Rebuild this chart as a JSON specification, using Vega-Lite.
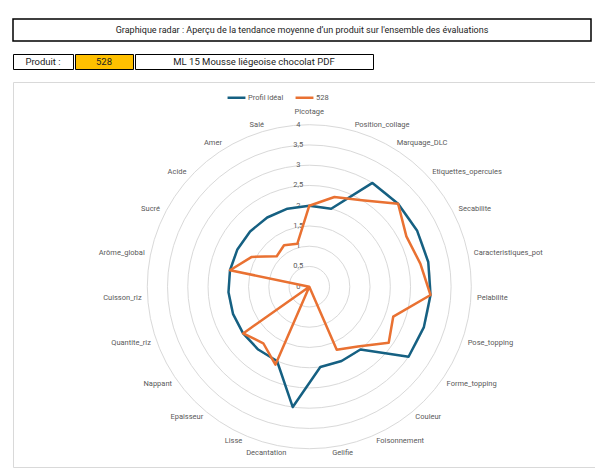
{
  "$schema": "https://vega.github.io/schema/vega-lite/v6.json",
  "description": "Graphique radar : profil idéal contre produit 528.",
  "background": "white",
  "padding": {"left": 12, "top": 18, "right": 0, "bottom": 0},
  "spacing": 11,
  "datasets": {
    "criteres": [
      {"critere": "Picotage", "Profil idéal": 2, "528": 2.0},
      {"critere": "Position_collage", "Profil idéal": 2, "528": 2.3},
      {"critere": "Marquage_DLC", "Profil idéal": 3, "528": 2.5},
      {"critere": "Etiquettes_opercules", "Profil idéal": 3, "528": 3.0},
      {"critere": "Secabilite", "Profil idéal": 3, "528": 2.7},
      {"critere": "Caracteristiques_pot", "Profil idéal": 3, "528": 2.8},
      {"critere": "Pelabilite", "Profil idéal": 3, "528": 3.0},
      {"critere": "Pose_topping", "Profil idéal": 3, "528": 2.2},
      {"critere": "Forme_topping", "Profil idéal": 3, "528": 2.4},
      {"critere": "Couleur", "Profil idéal": 2, "528": 1.9},
      {"critere": "Foisonnement", "Profil idéal": 2, "528": 1.7},
      {"critere": "Gelifie", "Profil idéal": 2, "528": 0},
      {"critere": "Decantation", "Profil idéal": 3, "528": 0},
      {"critere": "Lisse", "Profil idéal": 2, "528": 2.1},
      {"critere": "Epaisseur", "Profil idéal": 2, "528": 1.8},
      {"critere": "Nappant", "Profil idéal": 2, "528": 2.0},
      {"critere": "Quantite_riz", "Profil idéal": 2, "528": 0},
      {"critere": "Cuisson_riz", "Profil idéal": 2, "528": 0},
      {"critere": "Arôme_global", "Profil idéal": 2, "528": 2.0},
      {"critere": "Sucré", "Profil idéal": 2, "528": 1.6},
      {"critere": "Acide", "Profil idéal": 2, "528": 1.1},
      {"critere": "Amer", "Profil idéal": 2, "528": 1.2},
      {"critere": "Salé", "Profil idéal": 2, "528": 1.1}
    ],
    "niveaux": [
      {"niveau": 0}, {"niveau": 0.5}, {"niveau": 1}, {"niveau": 1.5}, {"niveau": 2},
      {"niveau": 2.5}, {"niveau": 3}, {"niveau": 3.5}, {"niveau": 4}
    ]
  },
  "vconcat": [
    {
      "width": 578,
      "height": 22,
      "view": {"stroke": "#000000", "strokeWidth": 1.5, "fill": "white"},
      "data": {"values": [{"titre": "Graphique radar : Aperçu de la tendance moyenne d’un produit sur l'ensemble des évaluations"}]},
      "mark": {"type": "text", "font": "Roboto", "fontSize": 9, "color": "#222222"},
      "encoding": {"text": {"field": "titre"}}
    },
    {
      "spacing": 0,
      "hconcat": [
        {
          "width": 60,
          "height": 15,
          "view": {"stroke": "#000000", "strokeWidth": 1, "fill": "white"},
          "data": {"values": [{"libelle": "Produit :"}]},
          "mark": {"type": "text", "font": "Roboto", "fontSize": 9.5, "color": "#222222"},
          "encoding": {"text": {"field": "libelle"}}
        },
        {
          "width": 58,
          "height": 15,
          "view": {"stroke": "#000000", "strokeWidth": 1, "fill": "#FFC000"},
          "data": {"values": [{"libelle": "528"}]},
          "mark": {"type": "text", "font": "Roboto", "fontSize": 9.5, "color": "#222222"},
          "encoding": {"text": {"field": "libelle"}}
        },
        {
          "width": 238,
          "height": 15,
          "view": {"stroke": "#000000", "strokeWidth": 1, "fill": "white"},
          "data": {"values": [{"libelle": "ML 15 Mousse liégeoise chocolat PDF"}]},
          "mark": {"type": "text", "font": "Roboto", "fontSize": 9.5, "color": "#222222"},
          "encoding": {"text": {"field": "libelle"}}
        }
      ]
    },
    {
      "width": 583,
      "height": 385,
      "view": {"stroke": "#d9d9d9", "strokeWidth": 1, "fill": "white"},
      "layer": [
        {
          "data": {"name": "niveaux"},
          "transform": [{"filter": "datum.niveau > 0"}],
          "mark": {"type": "arc", "theta": 0, "theta2": 6.3, "fill": "transparent", "stroke": "#d9d9d9", "strokeWidth": 1},
          "encoding": {
            "x": {"datum": 0, "type": "quantitative", "scale": {"domain": [-7.316, 7.079], "nice": false, "zero": false}, "axis": null},
            "y": {"datum": 0, "type": "quantitative", "scale": {"domain": [-4.452, 5.055], "nice": false, "zero": false}, "axis": null},
            "radius": {"field": "niveau", "type": "quantitative", "stack": null, "scale": {"type": "linear", "domain": [0, 4], "range": [0, 162], "zero": true}}
          }
        },
        {
          "data": {"name": "niveaux"},
          "mark": {"type": "text", "font": "Roboto", "fontSize": 7.5, "color": "#595959", "dx": -11, "align": "center", "baseline": "middle"},
          "encoding": {
            "x": {"datum": 0, "type": "quantitative", "scale": {"domain": [-7.316, 7.079], "nice": false, "zero": false}, "axis": null},
            "y": {"field": "niveau", "type": "quantitative", "scale": {"domain": [-4.452, 5.055], "nice": false, "zero": false}, "axis": null},
            "text": {"field": "niveau", "type": "quantitative", "format": ".1~f"}
          }
        },
        {
          "data": {"name": "criteres"},
          "transform": [
            {"window": [{"op": "row_number", "as": "rang"}]},
            {"calculate": "(datum.rang - 1) * 2 * PI / 23", "as": "angle"},
            {"fold": ["Profil idéal", "528"], "as": ["serie", "valeur"]},
            {"calculate": "datum.valeur * sin(datum.angle)", "as": "px"},
            {"calculate": "datum.valeur * cos(datum.angle)", "as": "py"},
            {"filter": "datum.serie == 'Profil idéal'"}
          ],
          "mark": {"type": "line", "interpolate": "linear-closed", "strokeWidth": 2.5, "strokeJoin": "round"},
          "encoding": {
            "x": {"field": "px", "type": "quantitative", "scale": {"domain": [-7.316, 7.079], "nice": false, "zero": false}, "axis": null},
            "y": {"field": "py", "type": "quantitative", "scale": {"domain": [-4.452, 5.055], "nice": false, "zero": false}, "axis": null},
            "order": {"field": "rang"},
            "color": {
              "field": "serie",
              "type": "nominal",
              "scale": {"domain": ["Profil idéal", "528"], "range": ["#156082", "#E97132"]},
              "legend": {
                "title": null,
                "orient": "none",
                "legendX": 213,
                "legendY": 68,
                "direction": "horizontal",
                "symbolType": "stroke",
                "symbolSize": 320,
                "symbolStrokeWidth": 2.5,
                "labelFont": "Roboto",
                "labelFontSize": 7.5,
                "labelColor": "#595959",
                "labelOffset": 1,
                "columnPadding": 6
              }
            }
          }
        },
        {
          "data": {"name": "criteres"},
          "transform": [
            {"window": [{"op": "row_number", "as": "rang"}]},
            {"calculate": "(datum.rang - 1) * 2 * PI / 23", "as": "angle"},
            {"fold": ["Profil idéal", "528"], "as": ["serie", "valeur"]},
            {"calculate": "datum.valeur * sin(datum.angle)", "as": "px"},
            {"calculate": "datum.valeur * cos(datum.angle)", "as": "py"},
            {"filter": "datum.serie == '528'"}
          ],
          "mark": {"type": "line", "interpolate": "linear-closed", "strokeWidth": 2.5, "strokeJoin": "round"},
          "encoding": {
            "x": {"field": "px", "type": "quantitative", "scale": {"domain": [-7.316, 7.079], "nice": false, "zero": false}, "axis": null},
            "y": {"field": "py", "type": "quantitative", "scale": {"domain": [-4.452, 5.055], "nice": false, "zero": false}, "axis": null},
            "order": {"field": "rang"},
            "color": {"field": "serie", "type": "nominal", "scale": {"domain": ["Profil idéal", "528"], "range": ["#156082", "#E97132"]}}
          }
        },
        {
          "data": {"name": "criteres"},
          "transform": [
            {"window": [{"op": "row_number", "as": "rang"}]},
            {"calculate": "(datum.rang - 1) * 2 * PI / 23", "as": "angle"},
            {"calculate": "4.15 * sin(datum.angle)", "as": "lx"},
            {"calculate": "4.15 * cos(datum.angle)", "as": "ly"},
            {"filter": "datum.rang == 1"}
          ],
          "mark": {"type": "text", "font": "Roboto", "fontSize": 7.5, "color": "#595959", "align": "center", "baseline": "middle", "dy": -7},
          "encoding": {
            "x": {"field": "lx", "type": "quantitative", "scale": {"domain": [-7.316, 7.079], "nice": false, "zero": false}, "axis": null},
            "y": {"field": "ly", "type": "quantitative", "scale": {"domain": [-4.452, 5.055], "nice": false, "zero": false}, "axis": null},
            "text": {"field": "critere"}
          }
        },
        {
          "data": {"name": "criteres"},
          "transform": [
            {"window": [{"op": "row_number", "as": "rang"}]},
            {"calculate": "(datum.rang - 1) * 2 * PI / 23", "as": "angle"},
            {"calculate": "4.15 * sin(datum.angle)", "as": "lx"},
            {"calculate": "4.15 * cos(datum.angle)", "as": "ly"},
            {"filter": "datum.rang >= 2 && datum.rang <= 12"}
          ],
          "mark": {"type": "text", "font": "Roboto", "fontSize": 7.5, "color": "#595959", "align": "left", "baseline": "middle"},
          "encoding": {
            "x": {"field": "lx", "type": "quantitative", "scale": {"domain": [-7.316, 7.079], "nice": false, "zero": false}, "axis": null},
            "y": {"field": "ly", "type": "quantitative", "scale": {"domain": [-4.452, 5.055], "nice": false, "zero": false}, "axis": null},
            "text": {"field": "critere"}
          }
        },
        {
          "data": {"name": "criteres"},
          "transform": [
            {"window": [{"op": "row_number", "as": "rang"}]},
            {"calculate": "(datum.rang - 1) * 2 * PI / 23", "as": "angle"},
            {"calculate": "4.15 * sin(datum.angle)", "as": "lx"},
            {"calculate": "4.15 * cos(datum.angle)", "as": "ly"},
            {"filter": "datum.rang >= 13"}
          ],
          "mark": {"type": "text", "font": "Roboto", "fontSize": 7.5, "color": "#595959", "align": "right", "baseline": "middle"},
          "encoding": {
            "x": {"field": "lx", "type": "quantitative", "scale": {"domain": [-7.316, 7.079], "nice": false, "zero": false}, "axis": null},
            "y": {"field": "ly", "type": "quantitative", "scale": {"domain": [-4.452, 5.055], "nice": false, "zero": false}, "axis": null},
            "text": {"field": "critere"}
          }
        }
      ]
    }
  ],
  "config": {
    "locale": {"number": {"decimal": ",", "thousands": "\u00a0", "grouping": [3], "currency": ["", "\u00a0€"]}}
  }
}
